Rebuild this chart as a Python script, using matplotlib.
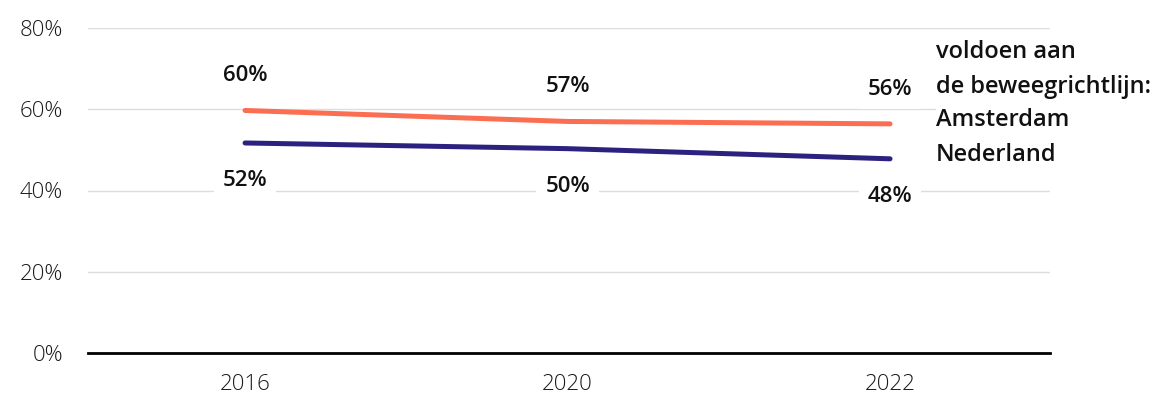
import matplotlib
matplotlib.use("Agg")
import matplotlib.pyplot as plt

years = ["2016", "2020", "2022"]
amsterdam = [59.7, 57.0, 56.4]
nederland = [51.7, 50.3, 47.8]
amsterdam_labels = ["60%", "57%", "56%"]
nederland_labels = ["52%", "50%", "48%"]
yticks = [0, 20, 40, 60, 80]
ytick_labels = ["0%", "20%", "40%", "60%", "80%"]
legend_title = ["voldoen aan", "de beweegrichtlijn:"]
series_names = ["Amsterdam", "Nederland"]

ORANGE = "#FB6E52"
NAVY = "#2B2280"

fig = plt.figure(figsize=(11.74, 3.97), dpi=100)
ax = fig.add_axes([88/1174, 1-353/397, (1050-88)/1174, (353-28)/397])

x = list(range(len(years)))
ax.plot(x, amsterdam, color=ORANGE, lw=3.6, solid_capstyle="round", zorder=3)
ax.plot(x, nederland, color=NAVY, lw=3.6, solid_capstyle="round", zorder=3)

ax.set_xlim(-0.487, 2.496)
ax.set_ylim(0, 80)
ax.set_yticks(yticks)
ax.set_yticklabels(ytick_labels)
ax.set_xticks(x)
ax.set_xticklabels(years)
ax.tick_params(axis="y", length=0, pad=18, labelsize=16, labelcolor="#1a1a1a")
ax.tick_params(axis="x", length=0, pad=15, labelsize=16, labelcolor="#1a1a1a")
for lab in ax.get_xticklabels() + ax.get_yticklabels():
    lab.set_family("Open Sans")
    lab.set_fontweight("light")

for s in ["top", "right", "left"]:
    ax.spines[s].set_visible(False)
ax.spines["bottom"].set_color("black")
ax.spines["bottom"].set_linewidth(2)
ax.spines["bottom"].set_zorder(4)

ax.grid(axis="y", color="#dddddd", lw=1, zorder=0)
ax.set_axisbelow(True)

bbox = dict(boxstyle="square,pad=0.4", fc="white", ec="none")
for xi, v, lab in zip(x, amsterdam, amsterdam_labels):
    ax.annotate(lab, (xi, v), xytext=(0, 25), textcoords="offset points",
                ha="center", va="center", fontsize=16, fontweight="semibold",
                family="Open Sans", color="#111111", bbox=bbox, zorder=2)
for xi, v, lab in zip(x, nederland, nederland_labels):
    ax.annotate(lab, (xi, v), xytext=(0, -27), textcoords="offset points",
                ha="center", va="center", fontsize=16, fontweight="semibold",
                family="Open Sans", color="#111111", bbox=bbox, zorder=2)

# legend block
fig.patches.append(plt.Rectangle((936/1174, 1-172/397), (1174-936)/1174, 135/397,
                                 transform=fig.transFigure, fc="white", ec="none", zorder=2))
legend_lines = legend_title + series_names
legend_y = [52, 87, 120, 155]
for txt, yy in zip(legend_lines, legend_y):
    fig.text(936/1174, 1-yy/397, txt, ha="left", va="center",
             fontsize=17, fontweight="semibold", family="Open Sans",
             color="#111111", zorder=5)

fig.savefig("out.png", dpi=100, facecolor="white")
